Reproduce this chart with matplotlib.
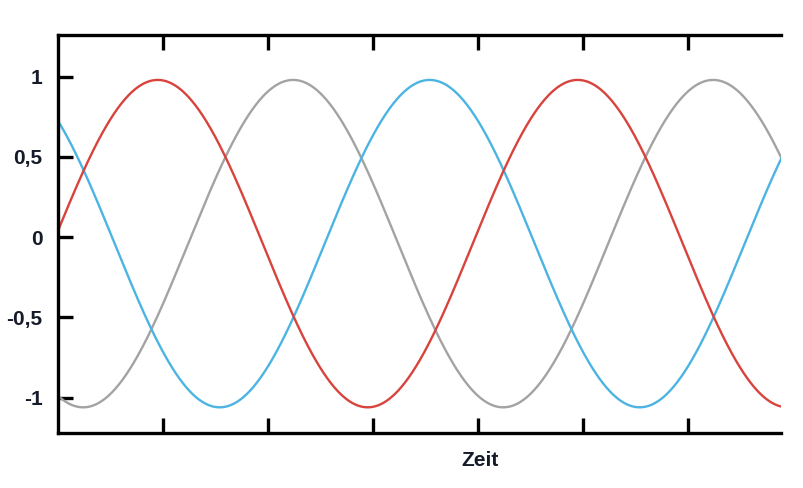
import numpy as np
import matplotlib.pyplot as plt

# Wave parameters (time in tick units)
period = 4.0
amplitude = 1.02
offset = -0.04
peak_times = {'red': 0.95, 'gray': 2.24, 'blue': 3.54}
colors = {'red': '#d8433c', 'gray': '#a3a3a3', 'blue': '#4cb4e3'}

yticks = [1, 0.5, 0, -0.5, -1]
yticklabs = ['1', '0,5', '0', '-0,5', '-1']
xticks = [1, 2, 3, 4, 5, 6]
xlab = 'Zeit'

plt.rcParams['font.family'] = ['Liberation Sans', 'DejaVu Sans']
textcol = '#151b28'

fig = plt.figure(figsize=(8.04, 4.88), dpi=100)
ax = fig.add_axes([0.0721, 0.1127, 0.8993, 0.8156])

t = np.linspace(0, 6.9, 800)
for name in ['gray', 'blue', 'red']:
    y = offset + amplitude * np.cos(2 * np.pi / period * (t - peak_times[name]))
    ax.plot(t, y, color=colors[name], lw=1.7, solid_capstyle='round')

ax.set_xlim(0, 6.886)
ax.set_ylim(-1.22, 1.26)

ax.spines['right'].set_visible(False)
for s in ['left', 'top', 'bottom']:
    ax.spines[s].set_linewidth(2.4)

ax.set_yticks(yticks)
ax.set_yticklabels(yticklabs, fontsize=15, fontweight='bold', color=textcol)
ax.set_xticks(xticks)
ax.set_xticklabels([])
ax.tick_params(axis='both', direction='in', length=11, width=2.4, pad=11)
ax.tick_params(axis='x', top=True)
ax.tick_params(axis='y', right=False)

# x label sits right of centre in the original
fig.text(480 / 804, 1 - 460 / 488, xlab, fontsize=15, fontweight='bold',
         color=textcol, ha='center', va='center')

fig.savefig('out.png', dpi=100)
